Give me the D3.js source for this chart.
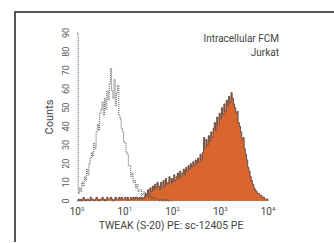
<!DOCTYPE html>
<html>
<head>
<meta charset="utf-8">
<script src="https://cdn.jsdelivr.net/npm/d3@7"></script>
<style>
  body { margin: 0; background: #fff; }
  svg { display: block; font-family: "Liberation Sans Narrow", "Roboto", "Liberation Sans", sans-serif; }
</style>
</head>
<body>
<script>
// histogram bins: log10 channel, 0.025 decade per bin, starting at 10^0
const binStep = 0.025;
const yTicks = [0, 10, 20, 30, 40, 50, 60, 70, 80, 90];
const xDecades = [0, 1, 2, 3, 4];

// isotype control (open, dotted)
const isoCounts = [
  95, 4, 7, 5, 10, 8, 13, 11, 17, 14, 20, 23, 26, 24, 31, 28, 37, 41, 38, 47,
  49, 53, 46, 55, 49, 59, 54, 63, 71, 59, 55, 65, 51, 58, 62, 46, 44, 39, 37, 32,
  31, 26, 25, 19, 19, 13, 15, 10, 11, 7, 9, 5, 6, 6, 3, 4, 5, 2, 3, 4,
  2, 3, 1, 2, 1, 2, 1, 1, 1, 0, 1, 0, 1, 0, 0, 1, 0, 0, 0, 0, 0
];

// TWEAK (S-20) PE (filled orange)
const tweakCounts = [
  0, 1, 0, 1, 0, 2, 1, 0, 1, 1, 0, 2, 1, 1, 0, 1, 2, 1, 0, 1,
  1, 2, 1, 0, 1, 2, 1, 1, 2, 1, 0, 1, 2, 1, 1, 2, 1, 2, 1, 1,
  2, 1, 2, 1, 1, 2, 1, 2, 1, 2, 2, 1, 2, 1, 2, 1,
  2, 4, 3, 6, 4, 7, 5, 8, 6, 9, 7, 10, 8, 6, 10, 7, 11, 8, 12, 9,
  10, 13, 9, 12, 10, 14, 11, 13, 15, 12, 16, 13, 15, 17, 14, 18, 16, 19, 17, 20,
  18, 21, 19, 22, 20, 23, 21, 25, 22, 26, 34, 28, 33, 30, 35, 32, 37, 34, 39, 42,
  38, 45, 41, 47, 44, 50, 46, 52, 48, 54, 51, 56, 53, 58, 55, 52, 50, 47, 48, 42,
  40, 37, 33, 34, 28, 25, 22, 18, 16, 13, 11, 9, 7, 6, 5, 4, 4, 3, 3, 2,
  2, 1, 1, 1, 0
];

const width = 334;
const height = 243;

const svg = d3.select('body').append('svg')
  .attr('width', width)
  .attr('height', height);

const x = d3.scaleLog().domain([1, 1e4]).range([77, 268]);
const y = d3.scaleLinear().domain([0, 90]).range([201, 33]).clamp(true);

// frame (top and left only)
svg.append('path')
  .attr('d', 'M15,242V12H334')
  .attr('fill', 'none')
  .attr('stroke', '#555')
  .attr('stroke-width', 2);

function binPoints(counts) {
  return counts.map((c, i) => [Math.pow(10, i * binStep), c]);
}

const stepArea = d3.area()
  .x(d => x(d[0]))
  .y0(y(0))
  .y1(d => y(d[1]))
  .curve(d3.curveStepAfter);

const stepLine = d3.line()
  .x(d => x(d[0]))
  .y(d => y(d[1]))
  .curve(d3.curveStepAfter);

// filled TWEAK histogram
const tweak = binPoints(tweakCounts);
svg.append('path')
  .datum(tweak)
  .attr('fill', '#d9662f')
  .attr('d', stepArea);
svg.append('path')
  .datum(tweak)
  .attr('fill', 'none')
  .attr('stroke', '#4a3a33')
  .attr('stroke-width', 0.8)
  .attr('d', stepLine);

// isotype control, dotted
svg.append('path')
  .datum(binPoints(isoCounts))
  .attr('fill', 'none')
  .attr('stroke', '#555')
  .attr('stroke-width', 1)
  .attr('stroke-dasharray', '1,1')
  .attr('d', stepLine);

// y tick labels, rotated
svg.append('g')
  .selectAll('text')
  .data(yTicks)
  .enter()
    .append('text')
    .attr('transform', d => `translate(69,${y(d)}) rotate(-90)`)
    .attr('text-anchor', 'middle')
    .attr('font-size', 9)
    .attr('fill', '#555')
    .text(d => d);

svg.append('text')
  .attr('transform', 'translate(53,117) rotate(-90)')
  .attr('text-anchor', 'middle')
  .attr('font-size', 11)
  .attr('fill', '#444')
  .text('Counts');

// x tick labels 10^n
const xl = svg.append('g')
  .selectAll('text')
  .data(xDecades)
  .enter()
    .append('text')
    .attr('x', d => x(Math.pow(10, d)))
    .attr('y', 215)
    .attr('text-anchor', 'middle')
    .attr('font-size', 10)
    .attr('fill', '#444');
xl.append('tspan').text('10');
xl.append('tspan')
  .attr('dy', -4)
  .attr('font-size', 6)
  .text(d => d);

svg.append('text')
  .attr('x', 171)
  .attr('y', 229)
  .attr('text-anchor', 'middle')
  .attr('font-size', 10.5)
  .attr('fill', '#444')
  .text('TWEAK (S-20) PE: sc-12405 PE');

svg.append('text')
  .attr('x', 279)
  .attr('y', 42)
  .attr('text-anchor', 'end')
  .attr('font-size', 10)
  .attr('fill', '#444')
  .text('Intracellular FCM');

svg.append('text')
  .attr('x', 279)
  .attr('y', 56)
  .attr('text-anchor', 'end')
  .attr('font-size', 10)
  .attr('fill', '#444')
  .text('Jurkat');
</script>
</body>
</html>
